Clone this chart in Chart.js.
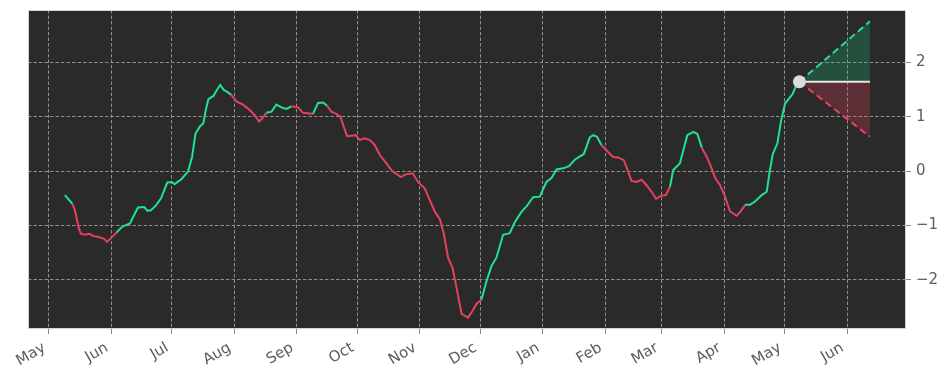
<!DOCTYPE html>
<html><head><meta charset="utf-8">
<script src="https://cdn.jsdelivr.net/npm/chart.js@4.4.0/dist/chart.umd.min.js"></script>
<style>html,body{margin:0;padding:0;background:#fff;}canvas{display:block;}</style>
</head><body>
<canvas id="c" width="950" height="381"></canvas>
<script>
// day offsets counted from the first "May 1" on the axis
const days = [7.9,11.6,12.9,14.6,15.8,17.9,20.1,21.8,24.6,27.2,28.8,30.5,33.5,36.4,40.2,42.2,44.2,47.3,48.9,50.6,53.1,55.6,58.7,61,62.3,65.7,69,71,72.7,74.9,76.6,77.8,79.1,81.6,83.3,85,86.7,88.3,90.5,93,96.3,99.6,102,104.2,105.9,107.9,110.4,112.8,115.3,117.8,120.3,123.6,126,128.5,131,133.5,136,138,140.1,142.6,144.6,145.9,147.9,150,152.2,154.2,156.7,159.2,161.6,164.1,167.4,170.3,172.4,174.5,177,180.5,183.1,186.5,189,191.5,193.9,195.9,198,200.2,202.2,204.7,207.9,210.1,212.1,214.6,217.1,219.6,222,225.3,228.6,231.1,234.4,236.9,240.2,243.5,246.8,249.3,251.8,255.1,258,260.9,263.4,265.3,266.7,268.3,270,271.9,274.1,277.4,279.9,282.4,285.2,287.4,289,291.5,294,296.5,299,301.2,303.2,306.1,308.1,309.7,313,314.7,316.7,319.7,321.7,323.9,326.4,328.8,330.5,333,335.4,337.9,341.2,343.2,345.4,347.8,350.3,353.6,356.1,357.7,359.1,361.4,363.1,365.2,367.7,369,370.7,372.3];
const values = [-0.44,-0.60,-0.72,-1.02,-1.15,-1.17,-1.15,-1.19,-1.21,-1.24,-1.30,-1.24,-1.13,-1.02,-0.96,-0.81,-0.67,-0.66,-0.73,-0.72,-0.63,-0.50,-0.21,-0.20,-0.24,-0.15,-0.01,0.26,0.69,0.82,0.88,1.12,1.32,1.38,1.49,1.58,1.49,1.46,1.40,1.28,1.22,1.12,1.03,0.91,0.97,1.07,1.09,1.22,1.17,1.14,1.19,1.17,1.07,1.06,1.05,1.25,1.26,1.20,1.09,1.05,1.00,0.85,0.64,0.65,0.66,0.57,0.60,0.57,0.48,0.30,0.14,0.00,-0.05,-0.11,-0.06,-0.04,-0.20,-0.32,-0.54,-0.75,-0.88,-1.15,-1.59,-1.77,-2.14,-2.62,-2.69,-2.57,-2.44,-2.36,-2.02,-1.74,-1.59,-1.17,-1.14,-0.94,-0.75,-0.65,-0.48,-0.47,-0.20,-0.13,0.03,0.05,0.09,0.21,0.27,0.31,0.45,0.62,0.66,0.63,0.48,0.35,0.26,0.25,0.20,-0.01,-0.18,-0.20,-0.16,-0.26,-0.38,-0.51,-0.46,-0.44,-0.29,0.02,0.14,0.38,0.66,0.72,0.68,0.43,0.26,0.05,-0.13,-0.26,-0.47,-0.74,-0.82,-0.74,-0.62,-0.62,-0.56,-0.44,-0.38,0.02,0.31,0.51,0.90,1.24,1.36,1.42,1.57,1.64];
// falling-trend stretches (start day, end day)
const redRanges = [[11.6,33.5],[90.5,107.9],[120.3,131],[138,214.6],[274.1,308.1],[323.9,345.4]];
const monthTickDays = [0,31,61,92,123,153,184,214,245,276,304,335,365,396];
const monthTickLabels = ['May','Jun','Jul','Aug','Sep','Oct','Nov','Dec','Jan','Feb','Mar','Apr','May','Jun'];
const yTickValues = [-2,-1,0,1,2];
const forecastDays = [372.3, 407.3];
const forecastMid = [1.64, 1.64];
const forecastUpper = [1.64, 2.75];
const forecastLower = [1.64, 0.63];
const lastDay = [372.3];
const lastValue = [1.64];

const GREEN = '#20e38f';
const RED = '#e6405e';
const FONT = {family: "'DejaVu Sans', sans-serif", size: 15};
const TXT = '#5c5c5c';
const GRID = '#8e8e8e';

const pts = (xs, ys) => xs.map((x, i) => ({x, y: ys[i]}));
const isRed = d => redRanges.some(r => d >= r[0] && d < r[1]);

const bgPlugin = {
  id: 'bg',
  beforeDraw(chart) {
    const {ctx, chartArea: a} = chart;
    ctx.save();
    ctx.fillStyle = '#fff';
    ctx.fillRect(0, 0, chart.width, chart.height);
    ctx.fillStyle = '#2a2a2a';
    ctx.fillRect(a.left, a.top, a.right - a.left, a.bottom - a.top);
    ctx.restore();
  },
  afterDraw(chart) {
    const {ctx, chartArea: a} = chart;
    ctx.save();
    ctx.strokeStyle = '#d4d4d4';
    ctx.lineWidth = 1;
    ctx.strokeRect(a.left + 0.5, a.top + 0.5, a.right - a.left - 1, a.bottom - a.top - 1);
    ctx.restore();
  }
};

const zeroPad = s => { s.paddingTop = 0; s.paddingBottom = 0; s.paddingLeft = 0; s.paddingRight = 0; };

new Chart(document.getElementById('c'), {
  type: 'line',
  data: {
    datasets: [
      {
        data: pts(days, values),
        borderWidth: 2,
        pointRadius: 0,
        tension: 0,
        borderColor: GREEN,
        segment: { borderColor: c => isRed(c.p0.parsed.x) ? RED : GREEN },
        order: 1
      },
      {
        data: pts(forecastDays, forecastMid),
        borderColor: '#e6e6e6', borderWidth: 2, pointRadius: 0, order: 2
      },
      {
        data: pts(forecastDays, forecastUpper),
        borderColor: GREEN, borderWidth: 2, borderDash: [7, 4], pointRadius: 0,
        fill: {target: 1, above: 'rgba(34,200,130,0.24)', below: 'rgba(34,200,130,0.24)'},
        order: 3
      },
      {
        data: pts(forecastDays, forecastLower),
        borderColor: RED, borderWidth: 2, borderDash: [7, 4], pointRadius: 0,
        fill: {target: 1, above: 'rgba(230,64,94,0.27)', below: 'rgba(230,64,94,0.27)'},
        order: 3
      },
      {
        type: 'scatter',
        data: pts(lastDay, lastValue),
        pointRadius: 6.5, pointBackgroundColor: '#dcdcdc', pointBorderWidth: 0,
        order: 0
      }
    ]
  },
  options: {
    responsive: false,
    animation: false,
    layout: {padding: {left: 28, top: 10, right: 0, bottom: 0}},
    plugins: {legend: {display: false}, tooltip: {enabled: false}},
    scales: {
      x: {
        type: 'linear',
        min: -10.4, max: 425.2,
        afterBuildTicks: s => { s.ticks = monthTickDays.map(v => ({value: v})); },
        afterFit: s => { s.height = 52; zeroPad(s); },
        ticks: {
          autoSkip: false, minRotation: 30, maxRotation: 30,
          color: TXT, font: FONT, padding: 5, labelOffset: -4.5,
          callback: (v, i) => monthTickLabels[i]
        },
        grid: {color: GRID, lineWidth: 1, tickLength: 5, tickColor: '#888', tickBorderDash: []},
        border: {display: false, dash: [3.5, 2]}
      },
      y: {
        type: 'linear',
        position: 'right',
        min: -2.90, max: 2.958,
        afterBuildTicks: s => { s.ticks = yTickValues.map(v => ({value: v})); },
        afterFit: s => { s.width = 44; zeroPad(s); },
        ticks: {
          color: TXT, font: FONT, padding: 5,
          callback: v => v < 0 ? '\u2212' + Math.abs(v) : String(v)
        },
        grid: {color: GRID, lineWidth: 1, tickLength: 5, tickColor: '#888', tickBorderDash: []},
        border: {display: false, dash: [3.5, 2]}
      }
    }
  },
  plugins: [bgPlugin]
});
</script>
</body></html>
